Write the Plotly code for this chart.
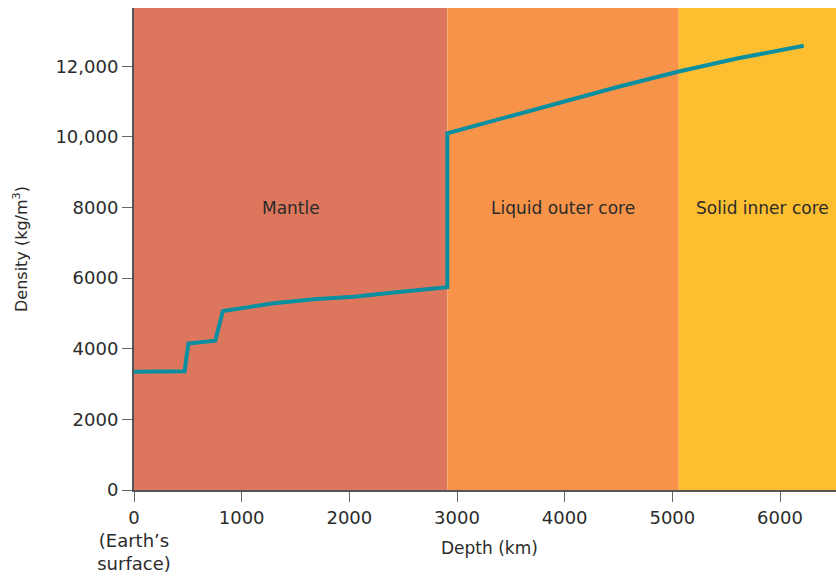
import plotly.graph_objects as go

# Density profile (depth km, density kg/m^3)
depth = [0, 470, 505, 755, 825, 1300, 1670, 2040, 2410, 2910, 2910, 3500, 4000, 4500, 5060, 5600, 6220]
density = [3350, 3360, 4150, 4230, 5070, 5290, 5400, 5475, 5590, 5740, 10100, 10600, 11000, 11420, 11850, 12220, 12580]

layer_names = ["Mantle", "Liquid outer core", "Solid inner core"]
layer_start = [0, 2910, 5060]
layer_end = [2910, 5060, 6520]
layer_label_x = [1460, 3985, 5835]
layer_label_y = [8000, 8000, 8000]
layer_colors = ["#DC765C", "#F7944A", "#FDBF30"]

x_ticks = [0, 1000, 2000, 3000, 4000, 5000, 6000]
x_ticktext = ["0<br>(Earth’s<br>surface)", "1000", "2000", "3000", "4000", "5000", "6000"]
y_ticks = [0, 2000, 4000, 6000, 8000, 10000, 12000]
y_ticktext = ["0", "2000", "4000", "6000", "8000", "10,000", "12,000"]

FONT = "DejaVu Sans"
TXT = "#2b2b2b"

fig = go.Figure()

shapes = []
for s, e, c in zip(layer_start, layer_end, layer_colors):
    shapes.append(dict(type="rect", xref="x", yref="paper", x0=s, x1=e, y0=0, y1=1,
                       fillcolor=c, line=dict(width=0), layer="below"))

fig.add_trace(go.Scatter(x=depth, y=density, mode="lines",
                         line=dict(color="#0A8FA0", width=4), hoverinfo="skip",
                         showlegend=False))

annotations = []
for name, lx, ly in zip(layer_names, layer_label_x, layer_label_y):
    annotations.append(dict(x=lx, y=ly, xref="x", yref="y", text=name, showarrow=False,
                            font=dict(family=FONT, size=17, color=TXT)))
annotations.append(dict(x=0.5057, y=-0.12, xref="paper", yref="paper", text="Depth (km)",
                        showarrow=False, yanchor="middle", xanchor="center",
                        font=dict(family=FONT, size=17, color=TXT)))
annotations.append(dict(x=-0.1624, y=0.5, xref="paper", yref="paper",
                        text="Density (kg/m<sup>3</sup>)", textangle=-90,
                        showarrow=False, yanchor="middle", xanchor="center",
                        font=dict(family=FONT, size=16, color=TXT)))

fig.update_layout(
    width=836, height=582,
    margin=dict(l=134, r=0, t=8, b=92),
    paper_bgcolor="white", plot_bgcolor="white",
    shapes=shapes, annotations=annotations,
    font=dict(family=FONT, size=18, color=TXT),
    xaxis=dict(range=[0, 6520], tickvals=x_ticks, ticktext=x_ticktext,
               showgrid=False, zeroline=False, showline=True, linecolor="#555555",
               linewidth=2, ticks="outside", ticklen=10, tickcolor="#666666",
               tickfont=dict(family=FONT, size=18, color=TXT), fixedrange=True,
               automargin=False),
    yaxis=dict(range=[0, 13650], tickvals=y_ticks, ticktext=y_ticktext,
               showgrid=False, zeroline=False, showline=True, linecolor="#555555",
               linewidth=2, ticks="outside", ticklen=10, tickcolor="#666666",
               tickfont=dict(family=FONT, size=18, color=TXT),
               fixedrange=True, automargin=False),
)

fig.write_html("out.html", config={"displayModeBar": False},
               post_script="document.body.style.margin='0';document.body.style.overflow='hidden';")
